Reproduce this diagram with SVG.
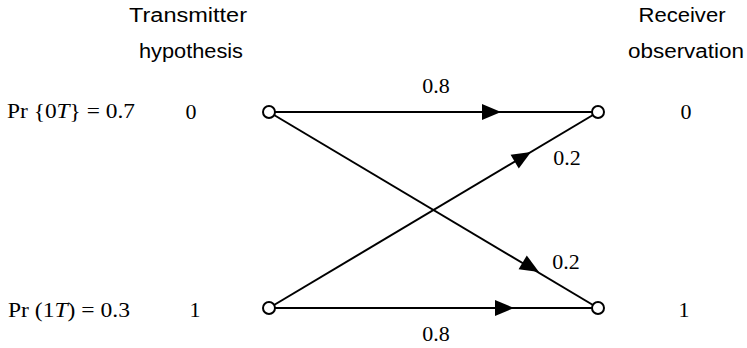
<svg xmlns="http://www.w3.org/2000/svg" width="747" height="348" viewBox="0 0 747 348">
<style>
.s{font-family:"Liberation Sans",Arial,sans-serif;font-size:20px;fill:#000;text-anchor:middle}
.t{font-family:"Liberation Serif","Times New Roman",serif;font-size:22px;fill:#000}
.m{text-anchor:middle}
.e{stroke:#000;stroke-width:2;fill:none}
.n{fill:#fff;stroke:#000;stroke-width:2}
.a{fill:#000}
</style>
<rect width="747" height="348" fill="#fff"/>
<g id="headers">
<text class="s" x="188" y="22" textLength="118" lengthAdjust="spacingAndGlyphs">Transmitter</text>
<text class="s" x="191" y="58" textLength="104" lengthAdjust="spacingAndGlyphs">hypothesis</text>
<text class="s" x="682" y="22" textLength="87" lengthAdjust="spacingAndGlyphs">Receiver</text>
<text class="s" x="686" y="58" textLength="116" lengthAdjust="spacingAndGlyphs">observation</text>
</g>
<g id="labels">
<text class="t" x="7" y="118" textLength="128" lengthAdjust="spacingAndGlyphs">Pr {0<tspan font-style="italic">T</tspan>} = 0.7</text>
<text class="t m" x="191" y="119">0</text>
<text class="t" x="8" y="317" textLength="122" lengthAdjust="spacingAndGlyphs">Pr (1<tspan font-style="italic">T</tspan>) = 0.3</text>
<text class="t m" x="195" y="317">1</text>
<text class="t m" x="686" y="119">0</text>
<text class="t m" x="684" y="317">1</text>
</g>
<g id="connectors">
<line class="e" x1="269" y1="112" x2="598" y2="112"/>
<line class="e" x1="269" y1="308" x2="598" y2="308"/>
<line class="e" x1="269" y1="112" x2="598" y2="308"/>
<line class="e" x1="269" y1="308" x2="598" y2="112"/>
<polygon class="a" points="501,112 482,104 482,120"/>
<polygon class="a" points="514,308 495,300 495,316"/>
<polygon class="a" transform="translate(531,152) rotate(-30.8)" points="0,0 -19,-8 -19,8"/>
<polygon class="a" transform="translate(539,272) rotate(30.8)" points="0,0 -19,-8 -19,8"/>
<text class="t m" x="436" y="93">0.8</text>
<text class="t m" x="567" y="165">0.2</text>
<text class="t m" x="566" y="269">0.2</text>
<text class="t m" x="436" y="341">0.8</text>
</g>
<g id="n0t"><circle class="n" cx="269" cy="112" r="6"/></g>
<g id="n1t"><circle class="n" cx="269" cy="308" r="6"/></g>
<g id="n0r"><circle class="n" cx="598" cy="112" r="6"/></g>
<g id="n1r"><circle class="n" cx="598" cy="308" r="6"/></g>
</svg>
